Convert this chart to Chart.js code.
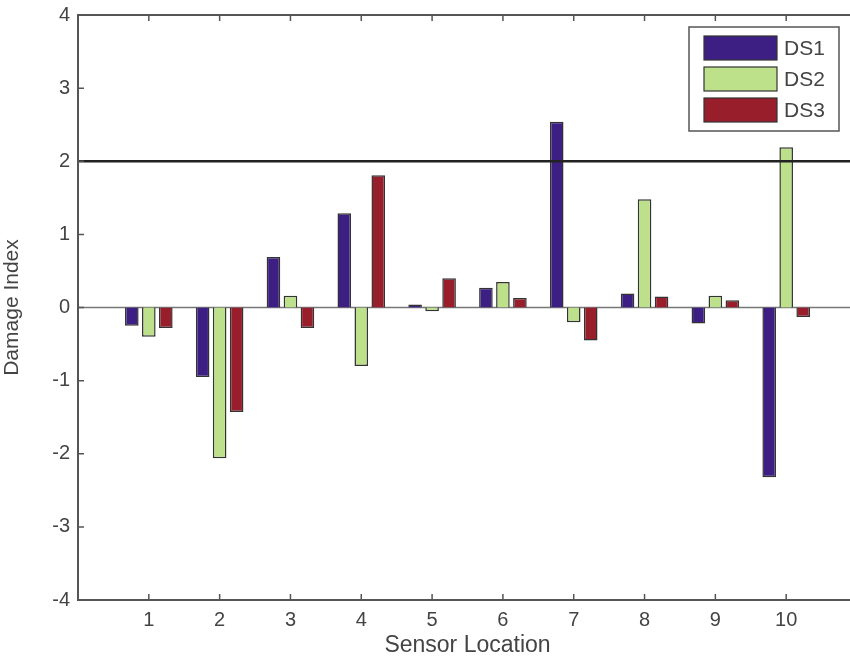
<!DOCTYPE html>
<html>
<head>
<meta charset="utf-8">
<script src="https://cdn.jsdelivr.net/npm/chart.js@4"></script>
<style>
  html, body { margin: 0; padding: 0; background: #fff; overflow: hidden; }
  #wrap { position: relative; width: 870px; height: 661px; }
</style>
</head>
<body>
<div id="wrap"><canvas id="grafico"></canvas></div>
<script>
// dados
const sensores = ['1', '2', '3', '4', '5', '6', '7', '8', '9', '10'];
const ds1 = [-0.25, -0.95, 0.69, 1.29, 0.04, 0.27, 2.54, 0.19, -0.22, -2.32];
const ds2 = [-0.40, -2.06, 0.16, -0.80, -0.05, 0.35, -0.20, 1.48, 0.16, 2.19];
const ds3 = [-0.28, -1.43, -0.28, 1.81, 0.40, 0.13, -0.45, 0.15, 0.10, -0.13];
const yTicks = [-4, -3, -2, -1, 0, 1, 2, 3, 4];
const limite = 2;

// eixo x vai de 0 a 11 como no matlab
const labels = [''].concat(sensores, ['']);
function pad(arr) { return [null].concat(arr, [null]); }

const fonte = 'Liberation Sans, Arial, Helvetica, sans-serif';
const corTexto = '#444';

// moldura, ticks para dentro, linha do zero e linha limite
const molduraPlugin = {
  id: 'moldura',
  beforeDatasetsDraw(chart) {
    const { ctx, chartArea: a, scales: { y } } = chart;
    const y0 = y.getPixelForValue(0);
    ctx.save();
    ctx.strokeStyle = '#777';
    ctx.lineWidth = 1.5;
    ctx.beginPath();
    ctx.moveTo(a.left, y0);
    ctx.lineTo(a.right, y0);
    ctx.stroke();
    ctx.restore();
  },
  afterDatasetsDraw(chart) {
    const { ctx, chartArea: a, scales: { y } } = chart;
    const yl = y.getPixelForValue(limite);
    ctx.save();
    ctx.strokeStyle = '#222';
    ctx.lineWidth = 2.5;
    ctx.beginPath();
    ctx.moveTo(a.left, yl);
    ctx.lineTo(a.right, yl);
    ctx.stroke();
    ctx.restore();
  },
  afterDraw(chart) {
    const { ctx, chartArea: a, scales: { x, y } } = chart;
    ctx.save();
    ctx.strokeStyle = '#555';
    ctx.lineWidth = 2;
    ctx.strokeRect(a.left, a.top, a.right - a.left, a.bottom - a.top);
    ctx.lineWidth = 1.5;
    ctx.beginPath();
    for (let i = 1; i <= sensores.length; i++) {
      const px = x.getPixelForValue(i);
      ctx.moveTo(px, a.bottom); ctx.lineTo(px, a.bottom - 6);
      ctx.moveTo(px, a.top); ctx.lineTo(px, a.top + 6);
    }
    yTicks.forEach(function (v) {
      const py = y.getPixelForValue(v);
      ctx.moveTo(a.left, py); ctx.lineTo(a.left + 6, py);
      ctx.moveTo(a.right, py); ctx.lineTo(a.right - 6, py);
    });
    ctx.stroke();

    // legenda dentro do grafico
    const lx = 689, ly = 27, lw = 150, lh = 104;
    ctx.fillStyle = '#fff';
    ctx.fillRect(lx, ly, lw, lh);
    ctx.strokeStyle = '#555';
    ctx.lineWidth = 1.5;
    ctx.strokeRect(lx, ly, lw, lh);
    ctx.font = '21px ' + fonte;
    ctx.textBaseline = 'middle';
    chart.data.datasets.forEach(function (ds, i) {
      const sy = ly + 9 + i * 31;
      ctx.fillStyle = ds.backgroundColor;
      ctx.fillRect(lx + 15, sy, 73, 24);
      ctx.strokeStyle = '#333';
      ctx.lineWidth = 1.2;
      ctx.strokeRect(lx + 15, sy, 73, 24);
      ctx.fillStyle = corTexto;
      ctx.fillText(ds.label, lx + 95, sy + 13);
    });
    ctx.restore();
  }
};

const config = {
  type: 'bar',
  data: {
    labels: labels,
    datasets: [
      { label: 'DS1', data: pad(ds1), backgroundColor: '#3d1f84' },
      { label: 'DS2', data: pad(ds2), backgroundColor: '#bde08a' },
      { label: 'DS3', data: pad(ds3), backgroundColor: '#981e2c' }
    ]
  },
  options: {
    responsive: false,
    animation: false,
    maintainAspectRatio: false,
    layout: { padding: { top: 15, right: 13, left: 0, bottom: 0 } },
    datasets: {
      bar: {
        borderColor: '#333',
        borderWidth: 1.5,
        categoryPercentage: 0.72,
        barPercentage: 0.8
      }
    },
    plugins: {
      legend: { display: false },
      tooltip: { enabled: false }
    },
    scales: {
      x: {
        offset: false,
        grid: { display: false, drawTicks: false },
        border: { display: false },
        ticks: {
          autoSkip: false,
          maxRotation: 0,
          padding: 8,
          color: corTexto,
          font: { family: fonte, size: 20 }
        },
        title: {
          display: true,
          text: 'Sensor Location',
          color: corTexto,
          padding: { top: 0, bottom: 2 },
          font: { family: fonte, size: 23 }
        },
        afterFit(scale) {
          scale.height = 61;
          scale.paddingLeft = 0;
          scale.paddingRight = 0;
        }
      },
      y: {
        min: -4,
        max: 4,
        grid: { display: false, drawTicks: false },
        border: { display: false },
        afterBuildTicks(scale) {
          scale.ticks = yTicks.map(function (v) { return { value: v }; });
        },
        ticks: {
          padding: 8,
          color: corTexto,
          font: { family: fonte, size: 20 }
        },
        title: {
          display: true,
          text: 'Damage Index',
          color: corTexto,
          padding: { top: 0, bottom: 0 },
          font: { family: fonte, size: 21 }
        },
        afterFit(scale) {
          scale.width = 78;
          scale.paddingTop = 0;
          scale.paddingBottom = 0;
        }
      }
    }
  },
  plugins: [molduraPlugin]
};

const canvas = document.getElementById('grafico');
canvas.width = 870;
canvas.height = 661;
var meuGrafico = new Chart(canvas, config);
</script>
</body>
</html>
